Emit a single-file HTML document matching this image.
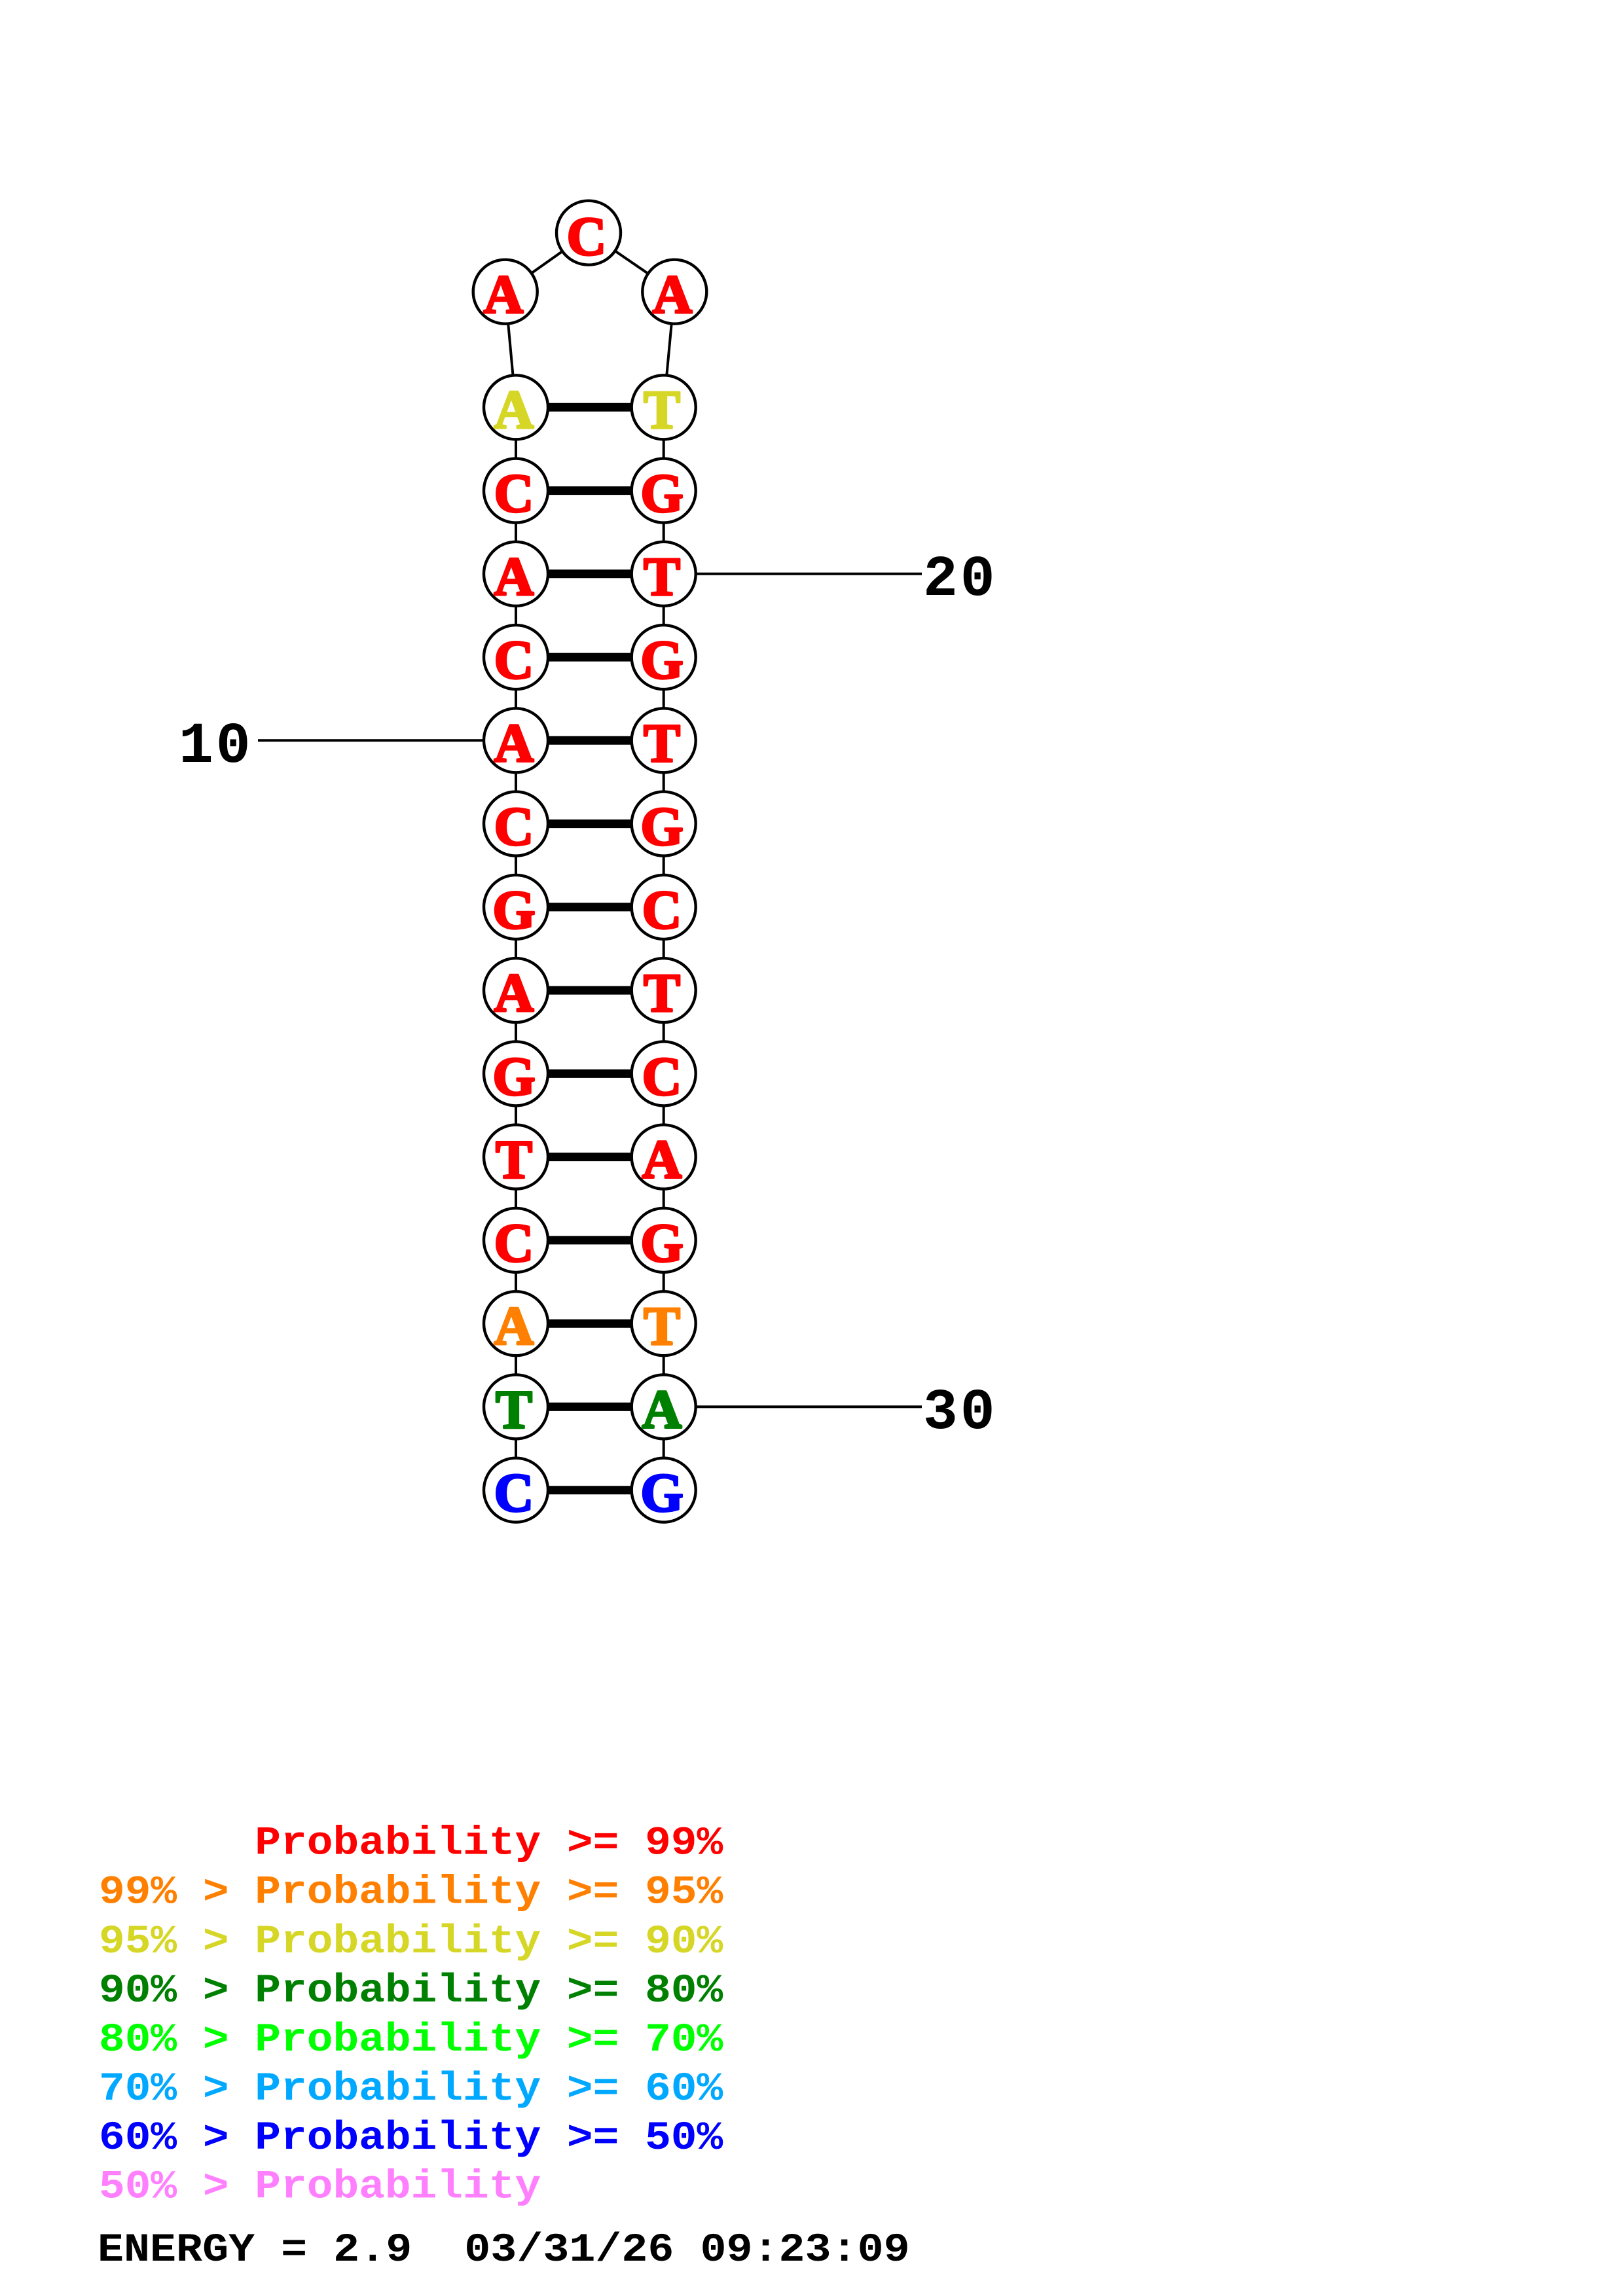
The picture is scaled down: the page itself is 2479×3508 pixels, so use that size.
<!DOCTYPE html>
<html><head><meta charset="utf-8"><style>
html,body{margin:0;padding:0;background:#fff}
svg{display:block}
.n{font-family:"Liberation Serif",serif;font-weight:bold;font-size:84px;text-anchor:middle;stroke-width:3.4px;stroke-linejoin:round}
.l{font-family:"Liberation Mono",monospace;font-weight:bold;font-size:66.2px;white-space:pre}
.e{font-size:66.7px}
.m{font-family:"Liberation Mono",monospace;font-weight:bold;font-size:88px;letter-spacing:4px;fill:#000}
.r{fill:#f00;stroke:#f00}.o{fill:#ff8000;stroke:#ff8000}.y{fill:#d6d626;stroke:#d6d626}.g{fill:#008000;stroke:#008000}.b{fill:#00f;stroke:#00f}
</style></head><body>
<svg xmlns="http://www.w3.org/2000/svg" width="2479" height="3508" viewBox="0 0 2479 3508">
<rect width="2479" height="3508" fill="#fff"/>
<g stroke="#000" stroke-width="4" fill="none">
<path d="M788 622.3V2276.7M1013.7 622.3V2276.7M788 622.3L771.7 445.7L899 355.7L1030.3 445.7L1013.7 622.3"/>
<path d="M394 1131.3H788M1013.7 876.8H1408M1013.7 2149.4H1408"/>
</g>
<g stroke="#000" stroke-width="13">
<path d="M788 622.3H1013.7M788 749.6H1013.7M788 876.8H1013.7M788 1004.1H1013.7M788 1131.3H1013.7M788 1258.6H1013.7M788 1385.9H1013.7M788 1513.1H1013.7M788 1640.4H1013.7M788 1767.6H1013.7M788 1894.9H1013.7M788 2022.2H1013.7M788 2149.4H1013.7M788 2276.7H1013.7"/>
</g>
<g fill="#fff" stroke="#000" stroke-width="4.4">
<circle cx="899" cy="355.7" r="49"/><circle cx="771.7" cy="445.7" r="49"/><circle cx="1030.3" cy="445.7" r="49"/>
<circle cx="788" cy="622.3" r="49"/><circle cx="1013.7" cy="622.3" r="49"/>
<circle cx="788" cy="749.6" r="49"/><circle cx="1013.7" cy="749.6" r="49"/>
<circle cx="788" cy="876.8" r="49"/><circle cx="1013.7" cy="876.8" r="49"/>
<circle cx="788" cy="1004.1" r="49"/><circle cx="1013.7" cy="1004.1" r="49"/>
<circle cx="788" cy="1131.3" r="49"/><circle cx="1013.7" cy="1131.3" r="49"/>
<circle cx="788" cy="1258.6" r="49"/><circle cx="1013.7" cy="1258.6" r="49"/>
<circle cx="788" cy="1385.9" r="49"/><circle cx="1013.7" cy="1385.9" r="49"/>
<circle cx="788" cy="1513.1" r="49"/><circle cx="1013.7" cy="1513.1" r="49"/>
<circle cx="788" cy="1640.4" r="49"/><circle cx="1013.7" cy="1640.4" r="49"/>
<circle cx="788" cy="1767.6" r="49"/><circle cx="1013.7" cy="1767.6" r="49"/>
<circle cx="788" cy="1894.9" r="49"/><circle cx="1013.7" cy="1894.9" r="49"/>
<circle cx="788" cy="2022.2" r="49"/><circle cx="1013.7" cy="2022.2" r="49"/>
<circle cx="788" cy="2149.4" r="49"/><circle cx="1013.7" cy="2149.4" r="49"/>
<circle cx="788" cy="2276.7" r="49"/><circle cx="1013.7" cy="2276.7" r="49"/>
</g>
<g class="n">
<text class="n r" x="896" y="389">C</text><text class="n r" x="769" y="478">A</text><text class="n r" x="1027" y="478">A</text>
<text class="n y" x="785" y="654">A</text><text class="n y" x="1011" y="654">T</text>
<text class="n r" x="785" y="781.6">C</text><text class="n r" x="1011" y="781.6">G</text>
<text class="n r" x="785" y="908.8">A</text><text class="n r" x="1011" y="908.8">T</text>
<text class="n r" x="785" y="1036.1">C</text><text class="n r" x="1011" y="1036.1">G</text>
<text class="n r" x="785" y="1163.3">A</text><text class="n r" x="1011" y="1163.3">T</text>
<text class="n r" x="785" y="1290.6">C</text><text class="n r" x="1011" y="1290.6">G</text>
<text class="n r" x="785" y="1417.9">G</text><text class="n r" x="1011" y="1417.9">C</text>
<text class="n r" x="785" y="1545.1">A</text><text class="n r" x="1011" y="1545.1">T</text>
<text class="n r" x="785" y="1672.4">G</text><text class="n r" x="1011" y="1672.4">C</text>
<text class="n r" x="785" y="1799.6">T</text><text class="n r" x="1011" y="1799.6">A</text>
<text class="n r" x="785" y="1926.9">C</text><text class="n r" x="1011" y="1926.9">G</text>
<text class="n o" x="785" y="2054.2">A</text><text class="n o" x="1011" y="2054.2">T</text>
<text class="n g" x="785" y="2181.4">T</text><text class="n g" x="1011" y="2181.4">A</text>
<text class="n b" x="785" y="2308.7">C</text><text class="n b" x="1011" y="2308.7">G</text>
</g>
<text class="m" x="273" y="1164">10</text>
<text class="m" x="1410" y="909">20</text>
<text class="m" x="1410" y="2182">30</text>
<text class="l" transform="translate(151 2832.7) scale(1 .92)" fill="#ff0000">      Probability &gt;= 99%</text>
<text class="l" transform="translate(151 2907.7) scale(1 .92)" fill="#ff8000">99% &gt; Probability &gt;= 95%</text>
<text class="l" transform="translate(151 2982.8) scale(1 .92)" fill="#d6d626">95% &gt; Probability &gt;= 90%</text>
<text class="l" transform="translate(151 3057.8) scale(1 .92)" fill="#008000">90% &gt; Probability &gt;= 80%</text>
<text class="l" transform="translate(151 3132.8) scale(1 .92)" fill="#00ff00">80% &gt; Probability &gt;= 70%</text>
<text class="l" transform="translate(151 3207.9) scale(1 .92)" fill="#00a8ff">70% &gt; Probability &gt;= 60%</text>
<text class="l" transform="translate(151 3282.9) scale(1 .92)" fill="#0000ff">60% &gt; Probability &gt;= 50%</text>
<text class="l" transform="translate(151 3357.7) scale(1 .92)" fill="#ff80ff">50% &gt; Probability</text>
<text class="l e" transform="translate(149 3454) scale(1 .92)" fill="#000">ENERGY = 2.9  03/31/26 09:23:09</text>
</svg>
</body></html>
